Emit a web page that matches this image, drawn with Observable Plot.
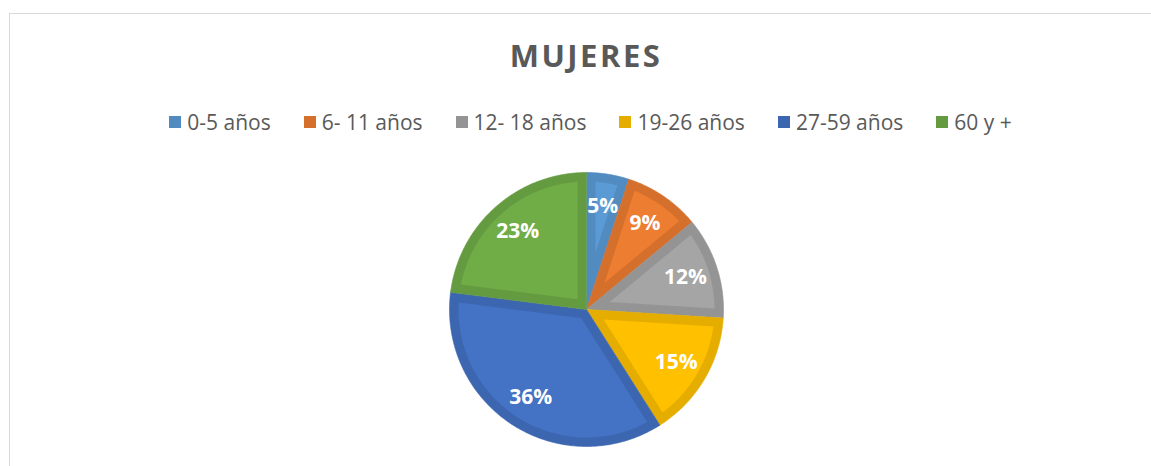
<!DOCTYPE html>
<html>
<head>
<meta charset="utf-8">
<script src="https://cdn.jsdelivr.net/npm/d3@7"></script>
<script src="https://cdn.jsdelivr.net/npm/@observablehq/plot@0.6"></script>
<style>
  html, body { margin: 0; padding: 0; background: #fff; }
  body { width: 1151px; height: 466px; position: relative; overflow: hidden; font-family: "Open Sans", sans-serif; }
  #frame { position: absolute; left: 9px; top: 13px; right: -2px; bottom: -2px; border-top: 1px solid #d9d9d9; border-left: 1px solid #d9d9d9; }
  #title { position: absolute; left: 0; width: 1172px; top: 33px; text-align: center; font-weight: 700; font-size: 31px; letter-spacing: 2.5px; color: #595959; line-height: 44px; }
  #legend { position: absolute; left: 10px; width: 1161px; top: 108px; display: flex; justify-content: center; gap: 33px; font-size: 21px; color: #595959; line-height: 28px; }
  .item { display: flex; align-items: center; }
  .sw { width: 12px; height: 12px; margin-right: 6px; }
  #chart { position: absolute; left: 0; top: 145px; }
</style>
</head>
<body>
<div id="frame"></div>
<div id="title">MUJERES</div>
<div id="legend"></div>
<div id="chart"></div>
<script>
const categories = ["0-5 años", "6- 11 años", "12- 18 años", "19-26 años", "27-59 años", "60 y +"];
const values = [5, 9, 12, 15, 36, 23];
const labels = ["5%", "9%", "12%", "15%", "36%", "23%"];
const colors = ["#5b9bd5", "#ed7d31", "#a5a5a5", "#ffc000", "#4472c4", "#70ad47"];

const dark = c => d3.rgb(c).darker(0.3).formatHex();

// legend
const legend = document.getElementById("legend");
categories.forEach((c, i) => {
  const it = document.createElement("div");
  it.className = "item";
  it.innerHTML = `<span class="sw" style="background:${dark(colors[i])}"></span><span>${c}</span>`;
  legend.appendChild(it);
});

// pie geometry (unit radius)
const R = 137;        // pixel radius
const inset = 9 / R;  // border band, in unit radius
const arcs = d3.pie().sort(null).value(d => d)(values);
const outer = [], inner = [], text = [];
arcs.forEach((a, i) => {
  const a0 = a.startAngle, a1 = a.endAngle;
  const n = Math.max(4, Math.ceil((a1 - a0) / (Math.PI / 180)));
  outer.push({k: i, x: 0, y: 0, fill: dark(colors[i])});
  for (let j = 0; j <= n; j++) {
    const t = a0 + (a1 - a0) * j / n;
    outer.push({k: i, x: Math.sin(t), y: Math.cos(t), fill: dark(colors[i])});
  }
  const h = (a1 - a0) / 2, mid = (a0 + a1) / 2;
  const r2 = 1 - inset;
  const dlt = Math.asin(inset / r2);
  const ap = inset / Math.sin(h);
  inner.push({k: i, x: ap * Math.sin(mid), y: ap * Math.cos(mid), fill: colors[i]});
  for (let j = 0; j <= n; j++) {
    const t = (a0 + dlt) + (a1 - a0 - 2 * dlt) * j / n;
    inner.push({k: i, x: r2 * Math.sin(t), y: r2 * Math.cos(t), fill: colors[i]});
  }
  text.push({x: 0.76 * Math.sin(mid), y: 0.76 * Math.cos(mid), label: labels[i]});
});

const cx = 586, cy = 164;
const chart = Plot.plot({
  width: 1151,
  height: 321,
  margin: 0,
  style: {fontFamily: "'Open Sans', sans-serif", background: "transparent", overflow: "visible"},
  x: {domain: [-1, 1], range: [cx - R, cx + R], axis: null},
  y: {domain: [-1, 1], range: [cy + R, cy - R], axis: null},
  color: {type: "identity"},
  marks: [
    Plot.line(outer, {x: "x", y: "y", z: "k", fill: "fill", stroke: "fill", strokeWidth: 0.6, curve: "linear-closed"}),
    Plot.line(inner, {x: "x", y: "y", z: "k", fill: "fill", stroke: "none", curve: "linear-closed"}),
    Plot.text(text, {x: "x", y: "y", text: "label", fill: "white", fontSize: 21, fontWeight: "bold"})
  ]
});
document.getElementById("chart").appendChild(chart);
</script>
</body>
</html>
